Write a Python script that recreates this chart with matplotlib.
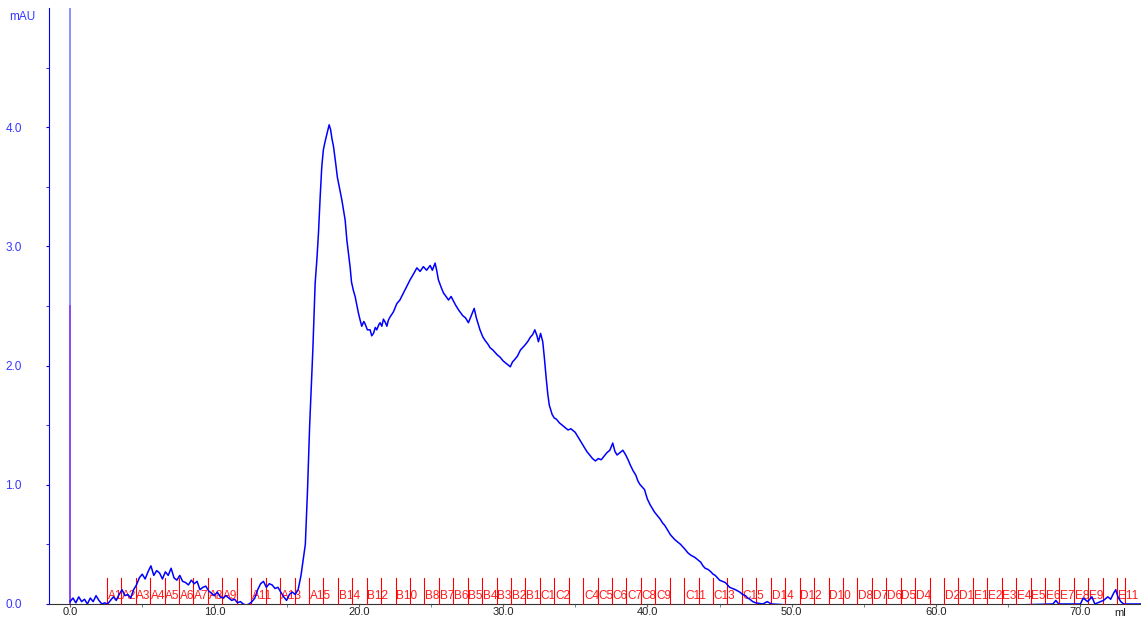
#! /usr/bin/env python3
#
# UV trace of the gel filtration run with the fraction marks underneath.
#
import matplotlib as mpl
mpl.use('Agg')
import matplotlib.pyplot as plt
import matplotlib.transforms as mtransforms

plt.rcParams['font.family'] = ['Liberation Sans', 'DejaVu Sans']

# UV 280 nm, volume in ml and absorbance in mAU
vol = [0.0, 0.2, 0.4, 0.6, 0.8, 1.0, 1.2, 1.4, 1.6, 1.8, 2.0, 2.2, 2.4, 2.6, 2.8,
       3.0, 3.2, 3.4, 3.6, 3.8, 4.0, 4.2, 4.4, 4.6, 4.8, 5.0, 5.2, 5.4, 5.6, 5.8,
       6.0, 6.2, 6.4, 6.6, 6.8, 7.0, 7.2, 7.4, 7.6, 7.8, 8.0, 8.2, 8.4, 8.6, 8.8,
       9.0, 9.2, 9.4, 9.6, 9.8, 10.0, 10.2, 10.4, 10.6, 10.8, 11.0, 11.2, 11.4,
       11.6, 11.8, 12.0, 12.2, 12.4, 12.6, 12.8, 13.0, 13.2, 13.4, 13.6, 13.8,
       14.0, 14.2, 14.4, 14.6, 14.8, 15.0, 15.2, 15.4, 15.6, 15.8, 16.0, 16.15,
       16.3, 16.45, 16.6, 16.72, 16.82, 16.98, 17.1, 17.21, 17.33, 17.44, 17.55,
       17.67, 17.83, 17.95, 18.05, 18.15, 18.25, 18.4, 18.52, 18.65, 18.83,
       18.95, 19.06, 19.18, 19.3, 19.4, 19.5, 19.63, 19.75, 19.85, 19.98, 20.1,
       20.21, 20.35, 20.44, 20.6, 20.79, 20.9, 21.02, 21.15, 21.25, 21.38,
       21.48, 21.6, 21.71, 21.85, 21.95, 22.05, 22.18, 22.4, 22.64, 22.85, 23.1,
       23.3, 23.56, 23.8, 24.03, 24.25, 24.48, 24.7, 24.95, 25.1, 25.29, 25.4,
       25.52, 25.7, 25.87, 26.05, 26.22, 26.4, 26.7, 26.9, 27.2, 27.4, 27.6,
       27.8, 28.0, 28.15, 28.4, 28.6, 28.76, 28.95, 29.1, 29.3, 29.6, 29.8,
       30.0, 30.2, 30.5, 30.65, 30.8, 31.0, 31.2, 31.35, 31.5, 31.7, 31.9,
       32.05, 32.2, 32.35, 32.45, 32.6, 32.75, 32.85, 33.0, 33.1, 33.2, 33.4,
       33.55, 33.7, 33.9, 34.1, 34.3, 34.5, 34.7, 35.0, 35.2, 35.4, 35.6, 35.8,
       36.0, 36.2, 36.4, 36.6, 36.8, 37.0, 37.2, 37.4, 37.6, 37.75, 37.9, 38.1,
       38.3, 38.5, 38.7, 38.8, 39.0, 39.2, 39.35, 39.5, 39.65, 39.8, 40.0,
       40.2, 40.35, 40.5, 40.7, 40.9, 41.05, 41.2, 41.4, 41.6, 41.75, 41.9,
       42.1, 42.3, 42.45, 42.6, 42.8, 43.0, 43.15, 43.3, 43.5, 43.7, 43.85,
       44.0, 44.2, 44.4, 44.55, 44.7, 44.85, 45.0, 45.2, 45.4, 45.55, 45.7,
       45.9, 46.1, 46.25, 46.4, 46.6, 46.8, 46.95, 47.1, 47.3, 47.5, 48.0,
       48.3, 48.6, 50.0, 55.0, 60.0, 65.0, 68.1, 68.3, 68.5, 70.0, 70.2, 70.5,
       70.8, 71.0, 71.6, 71.9, 72.1, 72.3, 72.45, 72.6, 72.8, 73.0, 74.2]
uv = [0.02, 0.05, 0.01, 0.06, 0.02, 0.04, 0.0, 0.05, 0.02, 0.07, 0.03, 0.0, 0.01,
      0.0, 0.03, 0.06, 0.03, 0.08, 0.12, 0.07, 0.08, 0.05, 0.12, 0.16, 0.22,
      0.25, 0.21, 0.27, 0.32, 0.24, 0.28, 0.26, 0.21, 0.27, 0.24, 0.30, 0.22,
      0.20, 0.24, 0.19, 0.18, 0.16, 0.20, 0.17, 0.19, 0.12, 0.14, 0.15, 0.11,
      0.09, 0.07, 0.10, 0.06, 0.05, 0.07, 0.05, 0.03, 0.04, 0.01, 0.02, 0.0,
      -0.01, 0.0, 0.02, 0.05, 0.12, 0.17, 0.19, 0.14, 0.17, 0.16, 0.13, 0.14,
      0.10, 0.06, 0.03, 0.08, 0.10, 0.08, 0.12, 0.24, 0.37, 0.50, 0.95, 1.50,
      1.85, 2.13, 2.69, 2.89, 3.11, 3.42, 3.67, 3.81, 3.88, 3.96, 4.02, 3.98,
      3.90, 3.84, 3.70, 3.58, 3.50, 3.39, 3.30, 3.22, 3.05, 2.93, 2.83, 2.70,
      2.63, 2.58, 2.52, 2.44, 2.38, 2.33, 2.37, 2.35, 2.30, 2.30, 2.25, 2.27,
      2.32, 2.30, 2.34, 2.36, 2.33, 2.39, 2.36, 2.33, 2.38, 2.41, 2.45, 2.52,
      2.55, 2.61, 2.66, 2.72, 2.77, 2.82, 2.79, 2.83, 2.80, 2.84, 2.80, 2.86,
      2.80, 2.72, 2.66, 2.61, 2.58, 2.55, 2.58, 2.51, 2.47, 2.42, 2.40, 2.36,
      2.42, 2.48, 2.40, 2.30, 2.24, 2.21, 2.18, 2.15, 2.13, 2.09, 2.07, 2.04,
      2.02, 1.99, 2.03, 2.05, 2.08, 2.13, 2.15, 2.17, 2.20, 2.24, 2.26, 2.30,
      2.25, 2.20, 2.27, 2.20, 2.08, 1.88, 1.76, 1.67, 1.59, 1.56, 1.55, 1.52,
      1.50, 1.48, 1.46, 1.47, 1.44, 1.40, 1.36, 1.32, 1.28, 1.25, 1.22, 1.20,
      1.22, 1.21, 1.24, 1.27, 1.29, 1.35, 1.28, 1.25, 1.27, 1.29, 1.25, 1.20,
      1.17, 1.12, 1.08, 1.03, 1.00, 0.98, 0.96, 0.88, 0.83, 0.80, 0.77, 0.74,
      0.71, 0.68, 0.66, 0.62, 0.58, 0.56, 0.54, 0.52, 0.50, 0.48, 0.46, 0.43,
      0.41, 0.40, 0.39, 0.37, 0.35, 0.32, 0.30, 0.29, 0.27, 0.25, 0.24, 0.22,
      0.20, 0.19, 0.18, 0.16, 0.14, 0.13, 0.12, 0.11, 0.10, 0.08, 0.07, 0.05,
      0.04, 0.02, 0.01, 0.0, 0.02, 0.0, -0.01, -0.01, -0.01, -0.01, 0.0, 0.03,
      0.0, 0.0, 0.05, 0.02, 0.06, 0.0, 0.03, 0.06, 0.04, 0.09, 0.12, 0.06,
      0.02, 0.0, 0.0]

# fraction start volumes (ml) and tube names; blank names are not printed
frac_ml = [2.55, 3.55, 4.55, 5.55, 6.55, 7.55, 8.55, 9.55, 10.55, 11.55, 12.55,
           13.55, 14.55, 15.55, 16.55, 17.55, 18.55, 19.55, 20.55, 21.55, 22.55,
           23.55, 24.55, 25.55, 26.55, 27.55, 28.55, 29.55, 30.55, 31.55, 32.55,
           33.55, 34.55, 35.55, 36.55, 37.55, 38.55, 39.55, 40.55, 41.55, 42.55,
           43.55, 44.55, 45.55, 46.55, 47.55, 48.55, 49.55, 50.55, 51.55, 52.55,
           53.55, 54.55, 55.55, 56.55, 57.55, 58.55, 59.55, 60.55, 61.55, 62.55,
           63.55, 64.55, 65.55, 66.55, 67.55, 68.55, 69.55, 70.55, 71.55, 72.55,
           73.1]
frac_names = ['A1', 'A2', 'A3', 'A4', 'A5', 'A6', 'A7', 'A8', 'A9', '', 'A11', '',
              'A13', '', 'A15', '', 'B14', '', 'B12', '', 'B10', '', 'B8', 'B7',
              'B6', 'B5', 'B4', 'B3', 'B2', 'B1', 'C1', 'C2', '', 'C4', 'C5',
              'C6', 'C7', 'C8', 'C9', '', 'C11', '', 'C13', '', 'C15', '', 'D14',
              '', 'D12', '', 'D10', '', 'D8', 'D7', 'D6', 'D5', 'D4', '', 'D2',
              'D1', 'E1', 'E2', 'E3', 'E4', 'E5', 'E6', 'E7', 'E8', 'E9', '',
              'E11', '']

inject_ml = 0.0

xticks = [0, 10, 20, 30, 40, 50, 60, 70]
yticks = [0, 1, 2, 3, 4]

fig = plt.figure(figsize=(11.41, 6.19), dpi=100)
ax = fig.add_axes([49 / 1141, 1 - 604 / 619, 1 - 49 / 1141, 596 / 619])

ax.set_xlim(-1.46, 74.2)
ax.set_ylim(0.0, 5.0)

# injection mark
ax.axvline(inject_ml, color='#8585ff', lw=1.3, zorder=2)
ax.plot([inject_ml, inject_ml], [0, 2.5], color='#8a3cf0', lw=1.2, zorder=2)

# fraction marks along the bottom
trans = mtransforms.blended_transform_factory(ax.transData, ax.transAxes)
for ml, name in zip(frac_ml, frac_names):
    ax.plot([ml, ml], [0, 0.044], color='#ff0000', lw=0.8, transform=trans,
            zorder=3, clip_on=False)
    if name:
        ax.text(ml + 0.05, 0.004, name, color='#ff1a1a', fontsize=8.5,
                transform=trans, ha='left', va='bottom', zorder=3)

ax.plot(vol, uv, color='#0000ff', lw=1.1, zorder=4)

for side in ['top', 'right']:
    ax.spines[side].set_visible(False)
ax.spines['left'].set_color('#0000ff')
ax.spines['bottom'].set_color('#333333')

ax.set_xticks(xticks)
ax.set_xticklabels(['%.1f' % v for v in xticks])
ax.set_xticks([5, 15, 25, 35, 45, 55, 65], minor=True)
ax.set_yticks(yticks)
ax.set_yticklabels(['%.1f' % v for v in yticks])
ax.set_yticks([0.5, 1.5, 2.5, 3.5, 4.5], minor=True)

ax.tick_params(axis='x', which='both', length=2, color='#666666',
               labelsize=8, labelcolor='#222222', pad=0.5)
ax.tick_params(axis='y', which='both', length=2.5, color='#0000ff',
               labelsize=8.5, labelcolor='#3535ff', pad=17)

fig.text(9 / 1141, 1 - 17 / 619, 'mAU', color='#3535ff', fontsize=8.5,
         ha='left', va='center')
fig.text(1120 / 1141, 1 - 613 / 619, 'ml', color='#222222', fontsize=8,
         ha='center', va='center')

plt.savefig('out.png', dpi=100)
